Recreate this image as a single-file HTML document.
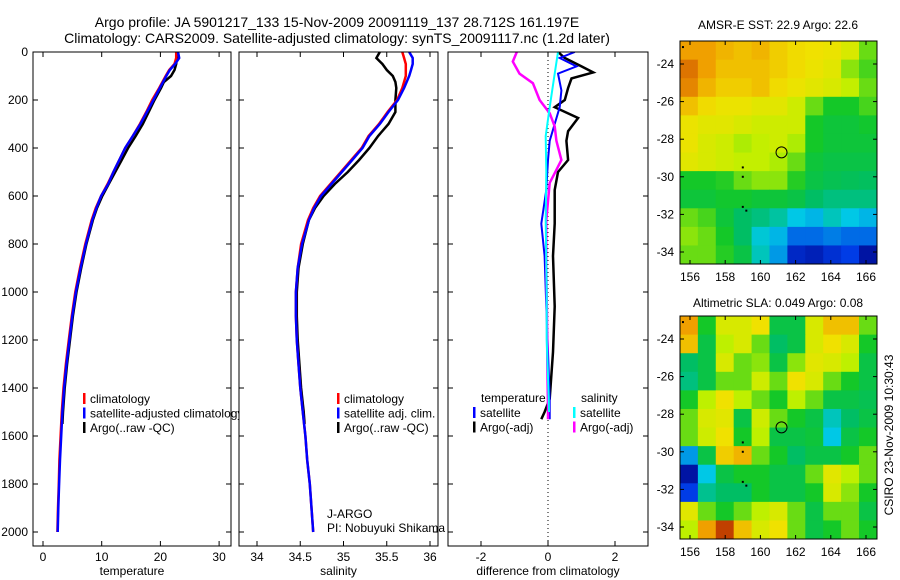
<!DOCTYPE html>
<html><head><meta charset="utf-8"><style>
html,body{margin:0;padding:0;background:#fff;}
svg{display:block;font-family:"Liberation Sans",sans-serif;}
</style></head><body>
<svg id="fig" width="900" height="580" viewBox="0 0 900 580">
<text x="337" y="27" font-size="14" text-anchor="middle">Argo profile: JA 5901217_133 15-Nov-2009 20091119_137 28.712S 161.197E</text>
<text x="337" y="43" font-size="14" text-anchor="middle">Climatology: CARS2009. Satellite-adjusted climatology: synTS_20091117.nc (1.2d later)</text>
<g id="g1"></g>
<g id="g2"></g>
<g id="g3"></g>
<g id="m1"></g>
<g id="m2"></g>
<text x="778" y="29" font-size="12" text-anchor="middle">AMSR-E SST: 22.9 Argo: 22.6</text>
<text x="778" y="307" font-size="12" text-anchor="middle">Altimetric SLA: 0.049 Argo: 0.08</text>
<text transform="translate(893,435) rotate(-90)" font-size="12" text-anchor="middle">CSIRO 23-Nov-2009 10:30:43</text>
</svg>
<script>
// ---- data ----
const climDepths=[0,25,50,75,100,150,200,250,300,350,400,450,500,550,600,650,700,800,900,1000,1100,1200,1300,1400,1500,1600,1700,1800,1900,2000];
const tempClim=[22.7,22.7,22.4,21.5,20.9,19.8,18.6,17.6,16.5,15.3,14.0,13.0,12.0,11.0,9.9,9.0,8.3,7.2,6.3,5.5,4.9,4.4,3.9,3.5,3.2,3.0,2.8,2.7,2.55,2.45];
const tempSat=[23.0,23.2,22.5,21.6,21.0,19.9,18.8,17.7,16.6,15.3,14.0,13.0,12.0,11.1,9.9,9.1,8.4,7.3,6.4,5.6,5.0,4.5,4.0,3.6,3.3,3.1,2.9,2.75,2.6,2.5];
const argoDepths=[0,25,50,75,100,125,150,200,250,300,350,400,450,500,550,600,650,700,800,900,1000,1100,1200,1300,1400,1500,1550];
const tempArgo=[22.9,22.8,22.7,22.4,21.8,20.6,20.1,19.0,18.0,17.0,15.8,14.5,13.4,12.3,11.2,10.1,9.2,8.5,7.4,6.5,5.7,5.1,4.6,4.1,3.7,3.4,3.3];
const salClim=[35.68,35.7,35.72,35.72,35.72,35.68,35.62,35.51,35.41,35.29,35.21,35.09,34.97,34.85,34.73,34.65,34.59,34.51,34.47,34.45,34.45,34.46,34.48,34.5,34.53,34.56,34.58,34.61,34.63,34.65];
const salSat=[35.76,35.8,35.8,35.78,35.76,35.7,35.63,35.52,35.42,35.3,35.22,35.1,34.98,34.86,34.74,34.66,34.6,34.52,34.47,34.45,34.45,34.46,34.48,34.5,34.53,34.56,34.58,34.61,34.63,34.65];
const salArgo=[35.42,35.38,35.45,35.5,35.57,35.6,35.61,35.6,35.6,35.52,35.4,35.3,35.18,35.05,34.9,34.77,34.67,34.6,34.53,34.48,34.46,34.46,34.47,34.49,34.51,34.54,34.55];
const tSatDepths=[0,25,60,90,160,230,300,370,450,575,715,850,1060,1250,1445,1530];
const tSatDiff=[0.8,0.35,0.85,0.3,0.4,0.35,0.2,0.05,0,-0.05,-0.2,-0.1,-0.05,0,0.05,0.05];
const tArgoDepths=[0,25,60,85,110,150,200,230,275,330,370,450,500,575,715,850,1060,1250,1445,1500,1530];
const tArgoDiff=[0.3,0.5,1.0,1.35,0.7,0.6,0.5,0.2,0.9,0.6,0.55,0.6,0.3,0.2,0.2,0.15,0.2,0.15,0.05,-0.1,-0.2];
const sSatDepths=[0,90,230,350,500,700,1000,1200,1440,1500];
const sSatDiff=[0.3,0.2,0.05,-0.07,-0.05,-0.07,-0.04,-0.04,0.02,0.03];
const sArgoDepths=[0,40,90,130,200,255,310,370,450,505,545,700,900,1100,1300,1480,1530];
const sArgoDiff=[-0.93,-1.05,-0.85,-0.45,-0.25,0.05,0.2,0.25,0.4,0.2,0.05,-0.05,-0.05,-0.03,-0.02,0,0];
const depthTicks=[0,200,400,600,800,1000,1200,1400,1600,1800,2000];
const tempTicks=[0,10,20,30];
const salTicks=[34,34.5,35,35.5,36];
const diffTicks=[-2,0,2];
const lonTicks=[156,158,160,162,164,166];
const latTicks=[-24,-26,-28,-30,-32,-34];
const sstGrid=[
[0.85,0.85,0.82,0.8,0.82,0.78,0.76,0.75,0.74,0.7,0.6],
[0.9,0.85,0.8,0.8,0.8,0.78,0.76,0.74,0.72,0.62,0.58],
[0.88,0.82,0.78,0.78,0.8,0.76,0.74,0.72,0.7,0.66,0.6],
[0.8,0.76,0.74,0.74,0.72,0.72,0.68,0.6,0.55,0.55,0.58],
[0.74,0.72,0.72,0.7,0.68,0.68,0.68,0.55,0.52,0.52,0.54],
[0.74,0.7,0.68,0.64,0.66,0.68,0.64,0.55,0.52,0.52,0.52],
[0.72,0.7,0.68,0.66,0.66,0.64,0.6,0.52,0.5,0.5,0.5],
[0.55,0.55,0.56,0.6,0.62,0.62,0.56,0.5,0.48,0.47,0.46],
[0.52,0.52,0.54,0.54,0.52,0.52,0.5,0.45,0.42,0.42,0.42],
[0.6,0.58,0.52,0.45,0.42,0.38,0.3,0.28,0.35,0.3,0.28],
[0.62,0.6,0.55,0.45,0.32,0.28,0.2,0.2,0.22,0.2,0.2],
[0.6,0.6,0.56,0.5,0.35,0.25,0.1,0.08,0.12,0.15,0.05]];
const slaGrid=[
[0.85,0.55,0.7,0.7,0.75,0.5,0.5,0.7,0.8,0.8,0.6],
[0.8,0.5,0.65,0.7,0.6,0.45,0.5,0.7,0.75,0.7,0.55],
[0.45,0.5,0.7,0.6,0.62,0.5,0.62,0.72,0.7,0.65,0.5],
[0.42,0.5,0.6,0.6,0.68,0.6,0.75,0.7,0.6,0.55,0.5],
[0.55,0.65,0.75,0.65,0.6,0.55,0.65,0.6,0.5,0.5,0.48],
[0.6,0.7,0.72,0.5,0.68,0.6,0.55,0.5,0.35,0.45,0.5],
[0.6,0.68,0.75,0.55,0.65,0.5,0.5,0.52,0.3,0.5,0.55],
[0.25,0.5,0.78,0.82,0.6,0.55,0.45,0.5,0.5,0.55,0.6],
[0.05,0.3,0.5,0.55,0.55,0.5,0.5,0.6,0.72,0.65,0.6],
[0.15,0.4,0.45,0.45,0.55,0.5,0.5,0.55,0.7,0.62,0.55],
[0.72,0.6,0.55,0.6,0.65,0.7,0.6,0.5,0.6,0.6,0.5],
[0.65,0.85,0.95,0.8,0.7,0.75,0.6,0.5,0.55,0.6,0.55]];
const floatLon=161.2, floatLat=-28.7;

const NS="http://www.w3.org/2000/svg";
function mk(parent,tag,attrs){const e=document.createElementNS(NS,tag);for(const k in attrs)e.setAttribute(k,attrs[k]);parent.appendChild(e);return e;}
const yD=d=>52+d*0.24;
const PB=546;

function panel(g,x0,x1,xs,ticks,label,showY,name){
  mk(g,'rect',{x:x0,y:52,width:x1-x0,height:PB-52,fill:'#fff',stroke:'none'});
  const cp=mk(g,'clipPath',{id:'cp'+name});
  mk(cp,'rect',{x:x0,y:52,width:x1-x0,height:PB-52});
  ticks.forEach(t=>{
    const x=xs(t);
    const l1=mk(g,'line',{x1:x,x2:x,y1:52,y2:57,stroke:'#000'});
    
    
    const l2=mk(g,'line',{x1:x,x2:x,y1:PB,y2:PB-5,stroke:'#000'});
    
    
    const tx=mk(g,'text',{x:x,y:561,'font-size':12,'text-anchor':'middle'});
    tx.textContent=t;
    
    
  });
  depthTicks.forEach(d=>{
    const y=yD(d);
    const a=mk(g,'line',{x1:x0,x2:x0+5,y1:y,y2:y,stroke:'#000'});
    
    
    const b=mk(g,'line',{x1:x1,x2:x1-5,y1:y,y2:y,stroke:'#000'});
    
    
    if(showY){const t=mk(g,'text',{x:28,y:y+4,'font-size':12,'text-anchor':'end'});t.textContent=d;
      
      }
  });
  const lb=mk(g,'text',{x:(x0+x1)/2,y:575,'font-size':12,'text-anchor':'middle'});lb.textContent=label;
  
  
  return 'url(#cp'+name+')';
}
function frame(g,x0,x1){const r=mk(g,'rect',{x:x0,y:52,width:x1-x0,height:PB-52,fill:'none',stroke:'#000'});
  
  }
function line(g,clip,xs,vals,depths,color,w,name){
  const pts=vals.map((v,i)=>xs(v).toFixed(1)+','+yD(depths[i]).toFixed(1)).join(' ');
  const p=mk(g,'polyline',{points:pts,fill:'none',stroke:color,'stroke-width':w,'clip-path':clip});
  
  
}
function legend(g,x,y,items){
  items.forEach((it,i)=>{
    const yy=y+i*14.5;
    mk(g,'rect',{x:x,y:yy-5,width:2.5,height:11,fill:it[1]});
    const t=mk(g,'text',{x:x+7,y:yy+5,'font-size':12});t.textContent=it[0];
    
    
  });
}

// panel 1 temperature
const g1=document.getElementById('g1');
const xT=v=>43+v*5.87;
const c1=panel(g1,33,231,xT,tempTicks,'temperature',true,'t');
line(g1,c1,xT,tempArgo,argoDepths,'#000',2.5,'temp-argo-line');
line(g1,c1,xT,tempClim,climDepths,'#f00',2.5,'temp-clim-line');
line(g1,c1,xT,tempSat,climDepths,'#00f',2.5,'temp-sat-line');
frame(g1,33,231);
legend(g1,83,398,[['climatology','#f00'],['satellite-adjusted climatology','#00f'],['Argo(..raw -QC)','#000']]);

// panel 2 salinity
const g2=document.getElementById('g2');
const xS=v=>257+(v-34)*86.5;
const c2=panel(g2,239,438,xS,salTicks,'salinity',false,'s');
line(g2,c2,xS,salArgo,argoDepths,'#000',2.5,'sal-argo-line');
line(g2,c2,xS,salClim,climDepths,'#f00',2.5,'sal-clim-line');
line(g2,c2,xS,salSat,climDepths,'#00f',2.5,'sal-sat-line');
frame(g2,239,438);
legend(g2,337,398,[['climatology','#f00'],['satellite adj. clim.','#00f'],['Argo(..raw -QC)','#000']]);
const j1=mk(g2,'text',{x:327,y:518,'font-size':12});j1.textContent='J-ARGO';


const j2=mk(g2,'text',{x:327,y:532,'font-size':12});j2.textContent='PI: Nobuyuki Shikama';



// panel 3 difference
const g3=document.getElementById('g3');
const xDf=v=>548+v*33.5;
const c3=panel(g3,448,648,xDf,diffTicks,'difference from climatology',false,'d');
const zl=mk(g3,'line',{x1:xDf(0),x2:xDf(0),y1:52,y2:PB,stroke:'#000','stroke-dasharray':'1,3'});


line(g3,c3,xDf,tArgoDiff,tArgoDepths,'#000',2.5,'temp-argo-diff');
line(g3,c3,xDf,tSatDiff,tSatDepths,'#00f',2,'temp-sat-diff');
line(g3,c3,xDf,sArgoDiff,sArgoDepths,'#f0f',2.5,'sal-argo-diff');
line(g3,c3,xDf,sSatDiff,sSatDepths,'#0ff',2,'sal-sat-diff');
frame(g3,448,648);
const tt=mk(g3,'text',{x:481,y:402,'font-size':12});tt.textContent='temperature';


const st=mk(g3,'text',{x:581,y:402,'font-size':12});st.textContent='salinity';


legend(g3,473,412,[['satellite','#00f'],['Argo(-adj)','#000']]);
legend(g3,573,412,[['satellite','#0ff'],['Argo(-adj)','#f0f']]);

// maps
function jet(v){
  const stops=[[0,[0,0,130]],[0.15,[0,60,230]],[0.3,[0,200,230]],[0.45,[0,190,100]],[0.55,[20,200,40]],[0.65,[190,240,0]],[0.75,[240,225,0]],[0.85,[240,160,0]],[0.93,[210,90,0]],[1,[150,0,0]]];
  for(let i=1;i<stops.length;i++){if(v<=stops[i][0]){const a=stops[i-1],b=stops[i],f=(v-a[0])/(b[0]-a[0]);
    const c=a[1].map((x,k)=>Math.round(x+(b[1][k]-x)*f));return 'rgb('+c.join(',')+')';}}
  return 'rgb(150,0,0)';
}
function map(g,top,grid,name){
  const X0=680,X1=877,Y0=top,Y1=top+223;
  const xL=lon=>690+(lon-156)*17.6;
  const yL=lat=>Y0+23+(-24-lat)*18.8;
  const lonMin=155.43,lonMax=166.62,latMax=-22.78,latMin=-34.64;
  const nr=grid.length,nc=grid[0].length;
  const dLon=(lonMax-lonMin)/nc,dLat=(latMax-latMin)/nr;
  grid.forEach((row,r)=>row.forEach((v,c)=>{
    const x=xL(lonMin+c*dLon),y=yL(latMax-r*dLat);
    const cell=mk(g,'rect',{x:x,y:y,width:xL(lonMin+(c+1)*dLon)-x+0.5,height:yL(latMax-(r+1)*dLat)-y+0.5,fill:jet(v)});
    
    
  }));
  const fr=mk(g,'rect',{x:X0,y:Y0,width:X1-X0,height:Y1-Y0,fill:'none',stroke:'#000'});
  
  
  lonTicks.forEach(l=>{const x=xL(l);
    mk(g,'line',{x1:x,x2:x,y1:Y0,y2:Y0+4,stroke:'#000'});
    mk(g,'line',{x1:x,x2:x,y1:Y1,y2:Y1-4,stroke:'#000'});
    const t=mk(g,'text',{x:x,y:Y1+17,'font-size':12,'text-anchor':'middle'});t.textContent=l;
    
    });
  latTicks.forEach(l=>{const y=yL(l);
    mk(g,'line',{x1:X0,x2:X0+4,y1:y,y2:y,stroke:'#000'});
    mk(g,'line',{x1:X1,x2:X1-4,y1:y,y2:y,stroke:'#000'});
    const t=mk(g,'text',{x:674,y:y+4,'font-size':12,'text-anchor':'end'});t.textContent=l;
    
    });
  const cx=xL(floatLon),cy=yL(floatLat);
  const cc=mk(g,'circle',{cx:cx,cy:cy,r:5.5,fill:'none',stroke:'#000','stroke-width':1});
  
  
  [[159,-29.5],[159,-30],[159,-31.6],[159.2,-31.8],[155.6,-23.1]].forEach(p=>{
    const d=mk(g,'rect',{x:xL(p[0])-1,y:yL(p[1])-1,width:2,height:2,fill:'#000'});
    
    
  });
}
map(document.getElementById('m1'),41,sstGrid,'sst-map');
map(document.getElementById('m2'),316,slaGrid,'sla-map');
</script>
</body></html>
